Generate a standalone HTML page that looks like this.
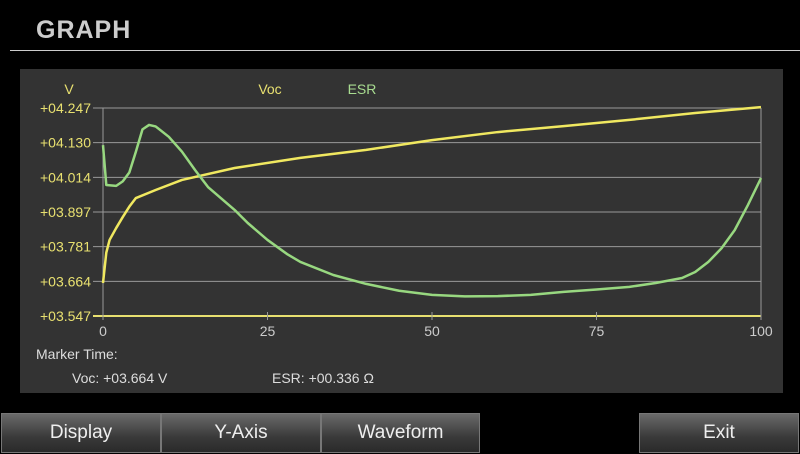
<!DOCTYPE html>
<html><head><meta charset="utf-8"><style>
body{margin:0;width:800px;height:454px;background:#000;overflow:hidden;font-family:"Liberation Sans",sans-serif}
.btn{position:absolute;top:413px;height:40px;background:linear-gradient(#6a6a6a,#3a3a3a 60%,#2a2a2a);border:1px solid #777;box-sizing:border-box;color:#eee;font-size:19px;text-align:center;line-height:38px}
</style></head><body>
<div style="position:absolute;left:36px;top:16px;font-size:25px;font-weight:bold;color:#ccc;letter-spacing:1px">GRAPH</div>
<div style="position:absolute;left:10px;top:50px;width:790px;height:1px;background:#ccc"></div>
<div style="position:absolute;left:20px;top:69px;width:763px;height:324px;background:#333"></div>
<svg id="c" width="800" height="454" style="position:absolute;left:0;top:0" font-family="Liberation Sans, sans-serif"></svg>
<div style="position:absolute;left:36px;top:346px;color:#ddd;font-size:14px">Marker Time:</div>
<div style="position:absolute;left:72px;top:370px;color:#ddd;font-size:14px">Voc: +03.664 V</div>
<div style="position:absolute;left:272px;top:370px;color:#ddd;font-size:14px">ESR: +00.336 Ω</div>
<div class="btn" style="left:1px;width:160px">Display</div>
<div class="btn" style="left:161px;width:160px">Y-Axis</div>
<div class="btn" style="left:321px;width:159px">Waveform</div>
<div class="btn" style="left:639px;width:160px">Exit</div>
<script>
const xTicks=[0,25,50,75,100];
const yTicks=["+04.247","+04.130","+04.014","+03.897","+03.781","+03.664","+03.547"];
const vocX=[0,0.5,1,2,3,4,5,8,12,20,30,40,50,60,70,80,90,100];
const vocY=[3.658,3.760,3.803,3.843,3.880,3.915,3.944,3.971,4.005,4.045,4.079,4.106,4.139,4.166,4.186,4.207,4.230,4.250];
const esrX=[0,0.5,2,3,4,5,6,7,8,10,12,14,16,20,22,25,28,30,35,40,45,50,55,60,65,70,75,80,84,88,90,92,94,96,98,100];
const esrY=[4.122,3.988,3.985,4.000,4.030,4.100,4.175,4.190,4.185,4.150,4.100,4.038,3.980,3.904,3.860,3.803,3.755,3.729,3.685,3.655,3.632,3.618,3.613,3.614,3.618,3.628,3.636,3.645,3.658,3.675,3.695,3.729,3.775,3.836,3.920,4.011];
const yMin=3.547,yMax=4.247;
const X0=103,X1=761,Y0=316,Y1=108;
const sx=v=>X0+(v-0)/100*(X1-X0);
const sy=v=>Y0-(v-yMin)/(yMax-yMin)*(Y0-Y1);
const svg=document.getElementById('c');const NS='http://www.w3.org/2000/svg';
function mk(t,a){const e=document.createElementNS(NS,t);for(const k in a)e.setAttribute(k,a[k]);svg.appendChild(e);return e;}
yTicks.forEach((t,i)=>{const y=Y1+i*(Y0-Y1)/(yTicks.length-1);
 const g=mk('line',{x1:93,x2:X1,y1:y,y2:y,stroke:i==6?'#e8e070':'#999','stroke-width':i==6?2:1});
 
 
 const tx=mk('text',{x:91,y:y+5,'text-anchor':'end',fill:'#e8e070','font-size':14});tx.textContent=t;
 
 });
xTicks.forEach(t=>{const x=sx(t);
 const g=mk('line',{x1:x,x2:x,y1:t==0||t==100?Y1:Y0-4,y2:Y0+4,stroke:'#999'});
 
 
 const tx=mk('text',{x:x,y:Y0+20,'text-anchor':'middle',fill:'#ccc','font-size':14});tx.textContent=t;
 
 });
const lbl=[['V',69,'#e8e070','y-axis-unit'],['Voc',270,'#e8e070','legend-voc'],['ESR',362,'#a8dc90','legend-esr']];
lbl.forEach(l=>{const t=mk('text',{x:l[1],y:94,'text-anchor':'middle',fill:l[2],'font-size':14});t.textContent=l[0];
 
 });
function line(xs,ys,c,n){const p=mk('polyline',{points:xs.map((x,i)=>sx(x)+','+sy(ys[i])).join(' '),fill:'none',stroke:c,'stroke-width':2.5,'stroke-linejoin':'round'});
 
 }
line(vocX,vocY,'#f0e860','voc-line');
line(esrX,esrY,'#98d880','esr-line');
</script>
</body></html>
